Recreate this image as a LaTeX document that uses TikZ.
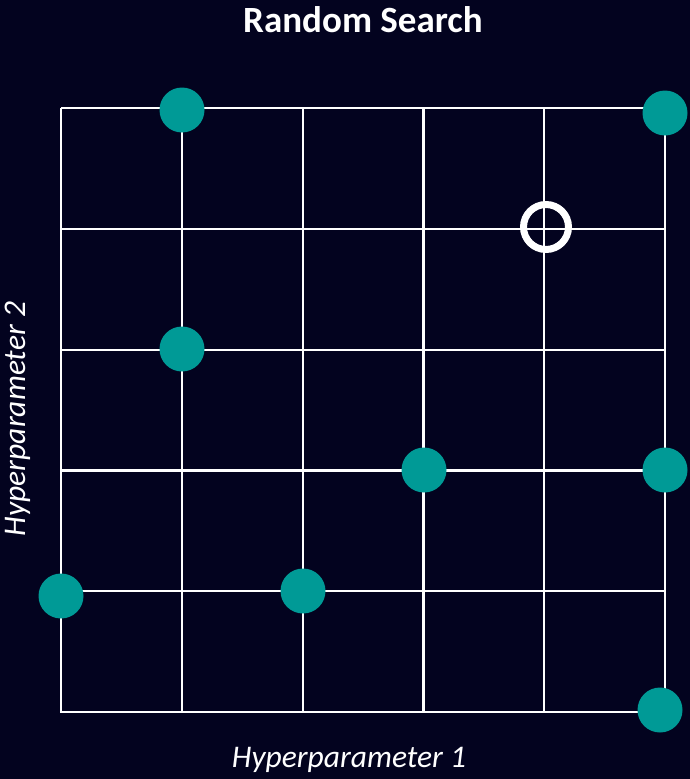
\documentclass[tikz,border=0pt]{standalone}
\usepackage{fontspec}
\setmainfont{Carlito}
\definecolor{bgnavy}{HTML}{03031F}
\definecolor{tealdot}{HTML}{009A96}
\begin{document}
\begin{tikzpicture}[x=1pt,y=-1pt,
  gridline/.style={draw=white,line width=2.2pt},
  sample/.style={circle,fill=tealdot,minimum size=45pt,inner sep=0pt},
  best/.style={circle,draw=white,line width=7pt,minimum size=45pt,inner sep=0pt},
  lbl/.style={text=white,font=\itshape\fontsize{31.5}{36}\selectfont}]
\fill[bgnavy] (0,0) rectangle (690,779);
\useasboundingbox (0,0) rectangle (690,779);
\foreach \i in {0,...,5}{
  \pgfmathsetmacro{\c}{61+120.8*\i}
  \draw[gridline] (\c,108) -- (\c,713);
  \draw[gridline] (61,\c+47) -- (665,\c+47);
}
\node[sample] (s1) at (182,110) {};
\node[sample] (s2) at (665,113) {};
\node[sample] (s3) at (182,349) {};
\node[sample] (s4) at (424,470) {};
\node[sample] (s5) at (665,470) {};
\node[sample] (s6) at (61,596) {};
\node[sample] (s7) at (303,591) {};
\node[sample] (s8) at (660,710) {};
\node[best] (b) at (546,227) {};
\node[text=white,font=\bfseries\fontsize{37}{42}\selectfont] (title) at (363,20) {Random Search};
\node[lbl] (xl) at (349,760) {Hyperparameter 1};
\node[lbl,rotate=90] (yl) at (18,419) {Hyperparameter 2};
\end{tikzpicture}
\end{document}
